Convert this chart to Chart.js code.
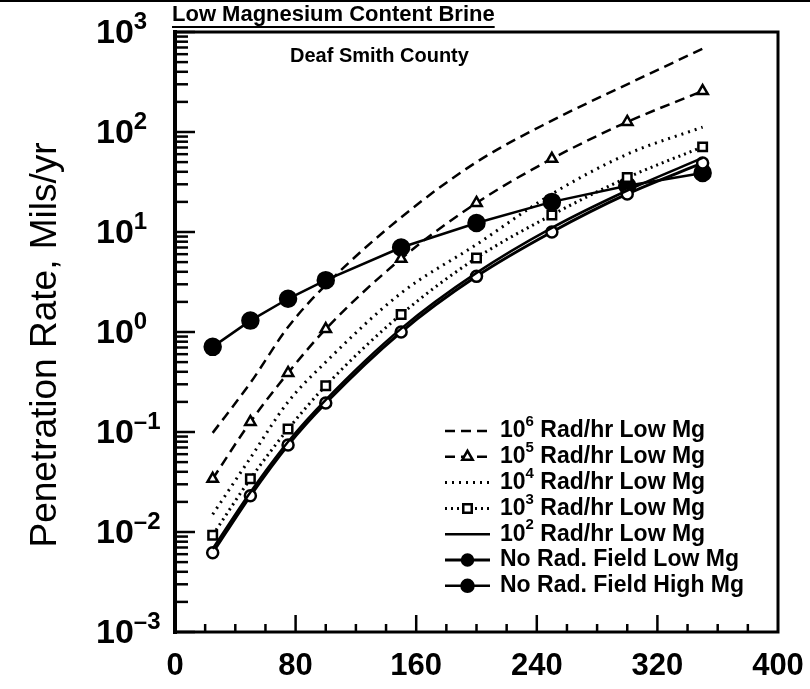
<!DOCTYPE html>
<html>
<head>
<meta charset="utf-8">
<script src="https://cdn.jsdelivr.net/npm/chart.js@4.4.1/dist/chart.umd.min.js"></script>
<style>
  html, body { margin: 0; padding: 0; background: #fff; }
  #wrap { position: relative; width: 810px; height: 689px; }
</style>
</head>
<body>
<div id="wrap"><canvas id="chart"></canvas></div>
<script>
// temperature of each computed point
const temps = [25, 50, 75, 100, 150, 200, 250, 300, 350];

// penetration rate, mils/yr
const rad1e6 = [0.098, 0.31, 1.12, 2.95, 14, 50, 130, 300, 680];
const rad1e5 = [0.034, 0.126, 0.39, 1.07, 5.4, 19.5, 54, 126, 257];
const rad1e4 = [0.015, 0.055, 0.2, 0.5, 2.45, 7.5, 24, 60, 112];
const rad1e3 = [0.0093, 0.034, 0.107, 0.29, 1.5, 5.5, 14.8, 35, 71];
const rad1e2 = [0.0068, 0.025, 0.08, 0.21, 1.08, 3.9, 11, 26, 55];
const noRadLowMg = [0.0062, 0.023, 0.074, 0.195, 1.0, 3.6, 10, 24, 49];
const noRadHighMg = [0.71, 1.3, 2.15, 3.3, 7.0, 12.3, 20, 29, 39];

const xTicks = [0, 80, 160, 240, 320, 400];
const yDecades = [-3, -2, -1, 0, 1, 2, 3];

// legend text: [base, exponent, rest]
const legendText = [
  ['10', '6', ' Rad/hr Low Mg'],
  ['10', '5', ' Rad/hr Low Mg'],
  ['10', '4', ' Rad/hr Low Mg'],
  ['10', '3', ' Rad/hr Low Mg'],
  ['10', '2', ' Rad/hr Low Mg'],
  ['', '', 'No Rad. Field Low Mg'],
  ['', '', 'No Rad. Field High Mg']
];

const FONT = '"Liberation Sans", Arial, sans-serif';
const pts = arr => temps.map((t, i) => ({ x: t, y: arr[i] }));

function series(data, extra) {
  return Object.assign({
    data: pts(data),
    borderColor: '#000',
    backgroundColor: '#fff',
    borderWidth: 2.5,
    pointRadius: 0,
    pointBorderWidth: 2.5,
    pointBackgroundColor: '#fff',
    pointBorderColor: '#000',
    cubicInterpolationMode: 'monotone',
    fill: false
  }, extra);
}

const datasets = [
  series(rad1e6, { borderDash: [10, 6] }),
  series(rad1e5, { borderDash: [10, 6], pointStyle: 'triangle', pointRadius: 6 }),
  series(rad1e4, { borderDash: [2, 5], borderWidth: 3 }),
  series(rad1e3, { borderDash: [2, 4], borderWidth: 3, pointStyle: 'rect', pointRadius: 6 }),
  series(rad1e2, {}),
  series(noRadLowMg, { borderWidth: 3, pointStyle: 'circle', pointRadius: 5.5, legendFill: '#000' }),
  series(noRadHighMg, { pointStyle: 'circle', pointRadius: 8, pointBackgroundColor: '#000', legendFill: '#000', cubicInterpolationMode: 'default', tension: 0 })
];

function drawSup(ctx, x, y, base, exp, baseSize, expSize, rise) {
  ctx.font = baseSize;
  ctx.fillText(base, x, y);
  const w = ctx.measureText(base).width;
  ctx.font = expSize;
  ctx.fillText(exp, x + w, y - rise);
  return w + ctx.measureText(exp).width;
}

const decor = {
  id: 'decor',
  beforeDraw(chart) {
    const ctx = chart.ctx;
    ctx.save();
    ctx.fillStyle = '#fff';
    ctx.fillRect(0, 0, chart.width, chart.height);
    ctx.restore();
  },
  afterDraw(chart) {
    const { ctx, chartArea: a, scales: { x, y } } = chart;
    ctx.save();
    ctx.strokeStyle = '#000';
    ctx.fillStyle = '#000';

    // frame
    ctx.lineWidth = 3;
    ctx.strokeRect(a.left, a.top, a.right - a.left, a.bottom - a.top);
    ctx.lineWidth = 4;
    ctx.beginPath();
    ctx.moveTo(a.left, a.top - 2);
    ctx.lineTo(a.left, a.bottom + 2);
    ctx.stroke();

    // scan edge at top
    ctx.fillRect(0, 0, chart.width, 2);

    // y ticks, inward
    ctx.lineWidth = 2.5;
    yDecades.forEach(d => {
      for (let k = 1; k <= 9; k++) {
        const v = k * Math.pow(10, d);
        if (v > 1000) break;
        const py = y.getPixelForValue(v);
        const len = k === 1 ? 20 : 13;
        ctx.beginPath();
        ctx.moveTo(a.left, py);
        ctx.lineTo(a.left + len, py);
        ctx.stroke();
      }
    });

    // x ticks, inward
    for (let t = 20; t < 400; t += 20) {
      const px = x.getPixelForValue(t);
      const len = t % 80 === 0 ? 17 : 8;
      ctx.beginPath();
      ctx.moveTo(px, a.bottom);
      ctx.lineTo(px, a.bottom - len);
      ctx.stroke();
    }

    // y tick labels with superscripts
    ctx.textBaseline = 'middle';
    ctx.textAlign = 'left';
    yDecades.forEach(d => {
      const py = y.getPixelForValue(Math.pow(10, d));
      const exp = d < 0 ? '\u2013' + (-d) : String(d);
      drawSup(ctx, 96, py + 2, '10', exp, 'bold 34px ' + FONT, 'bold 24px ' + FONT, 12);
    });

    // y axis title
    ctx.save();
    ctx.translate(46, 345);
    ctx.rotate(-Math.PI / 2);
    ctx.textAlign = 'center';
    ctx.font = '37px ' + FONT;
    ctx.fillText('Penetration Rate, Mils/yr', 0, 0);
    ctx.restore();

    // titles
    ctx.textAlign = 'left';
    ctx.font = 'bold 22px ' + FONT;
    const t1 = 'Low Magnesium Content Brine';
    ctx.fillText(t1, 172, 15);
    const tw = ctx.measureText(t1).width;
    ctx.fillRect(172, 26, tw, 2);
    ctx.font = 'bold 20px ' + FONT;
    ctx.fillText('Deaf Smith County', 290, 56);

    // legend
    const lx0 = 445, lx1 = 490, tx = 500, ly0 = 431, gap = 25.8;
    chart.data.datasets.forEach((ds, i) => {
      const ly = ly0 + i * gap;
      ctx.save();
      ctx.lineWidth = ds.borderWidth;
      ctx.setLineDash(ds.borderDash || []);
      ctx.beginPath();
      ctx.moveTo(lx0, ly);
      ctx.lineTo(lx1, ly);
      ctx.stroke();
      ctx.restore();
      if (ds.pointRadius > 0) {
        ctx.save();
        ctx.fillStyle = ds.legendFill || ds.pointBackgroundColor;
        ctx.strokeStyle = '#000';
        ctx.lineWidth = ds.pointBorderWidth;
        Chart.helpers.drawPoint(ctx, {
          pointStyle: ds.pointStyle, rotation: 0,
          radius: Math.min(ds.pointRadius, 6), borderWidth: ds.pointBorderWidth
        }, (lx0 + lx1) / 2, ly);
        ctx.restore();
      }
      const [b, e, rest] = legendText[i];
      let cx = tx;
      if (b) cx += drawSup(ctx, cx, ly, b, e, 'bold 23px ' + FONT, 'bold 15px ' + FONT, 9);
      ctx.font = 'bold 23px ' + FONT;
      ctx.fillText(rest, cx, ly);
    });
    ctx.restore();
  }
};

new Chart(document.getElementById('chart'), {
  type: 'line',
  data: { datasets },
  options: {
    responsive: true,
    maintainAspectRatio: false,
    animation: false,
    layout: { padding: { top: 32, right: 32, left: 0, bottom: 0 } },
    plugins: { legend: { display: false }, tooltip: { enabled: false } },
    scales: {
      x: {
        type: 'linear',
        min: 0,
        max: 400,
        afterFit(scale) {
          scale.height = 57;
          scale.paddingLeft = 0;
          scale.paddingRight = 0;
        },
        afterBuildTicks(scale) { scale.ticks = xTicks.map(v => ({ value: v })); },
        grid: { display: false, drawTicks: false },
        border: { display: false },
        ticks: { color: '#000', padding: 16, maxRotation: 0, font: { family: FONT, size: 31, weight: 'bold' } }
      },
      y: {
        type: 'logarithmic',
        min: 0.001,
        max: 1000,
        afterFit(scale) {
          scale.width = 175;
          scale.paddingTop = 0;
          scale.paddingBottom = 0;
        },
        grid: { display: false, drawTicks: false },
        border: { display: false },
        ticks: { display: false }
      }
    }
  },
  plugins: [decor]
});
</script>
</body>
</html>
